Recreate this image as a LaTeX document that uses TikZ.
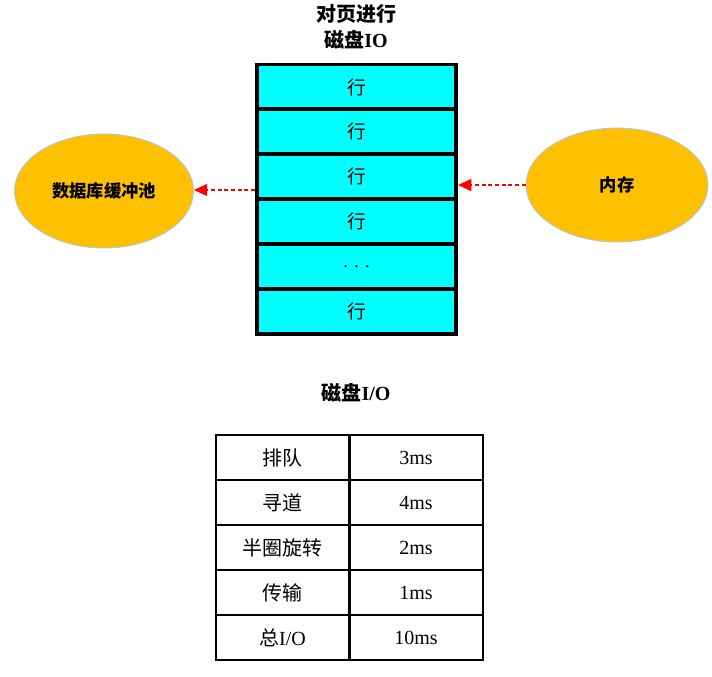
\documentclass[tikz,border=0pt]{standalone}
\usepackage{fontspec}
\setmainfont{Liberation Serif}
\newfontfamily\cjk{Noto Sans CJK SC}
\usetikzlibrary{shapes.geometric,arrows.meta}
\definecolor{gold}{HTML}{FFC000}
\definecolor{aqua}{HTML}{00FFFF}
\definecolor{edgeblue}{HTML}{A9C4E8}
\newlength{\pxu}
\setlength{\pxu}{0.75pt}
\tikzset{
  rowbox/.style={draw=black,line width=2.8pt,fill=aqua,minimum width=199\pxu,minimum height=45\pxu,inner sep=0pt,font=\cjk\fontsize{14}{16}\selectfont},
  pool/.style={ellipse,draw=edgeblue,line width=0.6pt,fill=gold,inner sep=0pt,font=\cjk\bfseries\fontsize{13}{15}\selectfont},
  cell/.style={draw=black,line width=1.5pt,minimum width=133\pxu,minimum height=45\pxu,inner sep=0pt,font=\fontsize{15}{17}\selectfont},
  flow/.style={red,densely dashed,line width=1pt,-{Triangle[length=10pt,width=9pt]}},
  title/.style={font=\bfseries\fontsize{15}{17}\selectfont,inner sep=0pt}
}
\begin{document}
\begin{tikzpicture}[x=0.75pt,y=-0.75pt]
\useasboundingbox (0,0) rectangle (712,676);
% titles
\node[title] (t1) at (356,14) {\cjk 对页进行};
\node[title] (t2) at (356,40) {{\cjk 磁盘}IO};
% stack
\node[rowbox] (r1) at (356.5,87) {行};
\node[rowbox] (r2) at (356.5,131.5) {行};
\node[rowbox] (r3) at (356.5,176.5) {行};
\node[rowbox] (r4) at (356.5,221.5) {行};
\node[rowbox,font=\fontsize{14}{16}\selectfont] (r5) at (356.5,266.5) {. . .};
\node[rowbox] (r6) at (356.5,311.5) {行};
% ellipses
\node[pool,minimum width=179\pxu,minimum height=114\pxu] (pool) at (104,191) {数据库缓冲池};
\node[pool,minimum width=182\pxu,minimum height=114\pxu] (mem) at (617,185) {内存};
% arrows
\coordinate (lsrc) at (255,190);
\coordinate (rdst) at (458,185);
\draw[flow] (lsrc) -- (pool.east |- lsrc);
\draw[flow] (mem.west) -- (rdst);
% table
\node[title] (t3) at (356,393) {{\cjk 磁盘}I/O};
\foreach \i/\a/\b in {0/排队/3ms,1/寻道/4ms,2/半圈旋转/2ms,3/传输/1ms} {
  \node[cell] (a\i) at (282.5,457.5+45*\i) {\cjk \a};
  \node[cell] (b\i) at (416,457.5+45*\i) {\b};
}
\node[cell] (a4) at (282.5,637.5) {{\cjk 总}I/O};
\node[cell] (b4) at (416,637.5) {10ms};
\end{tikzpicture}
\end{document}
